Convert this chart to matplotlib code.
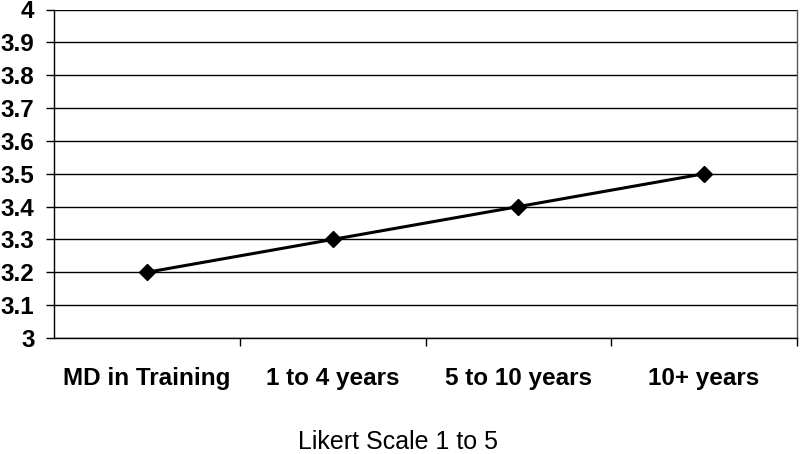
import matplotlib
matplotlib.use("Agg")
import matplotlib.pyplot as plt
from matplotlib.ticker import FixedLocator

categories = ["MD in Training", "1 to 4 years", "5 to 10 years", "10+ years"]
values = [3.2, 3.3, 3.4, 3.5]
y_ticks = [3.0, 3.1, 3.2, 3.3, 3.4, 3.5, 3.6, 3.7, 3.8, 3.9, 4.0]
y_labels = ["3", "3.1", "3.2", "3.3", "3.4", "3.5", "3.6", "3.7", "3.8", "3.9", "4"]
x_title = "Likert Scale 1 to 5"

plt.rcParams['font.family'] = ['Liberation Sans', 'DejaVu Sans']

fig = plt.figure(figsize=(8, 4.54), dpi=100)
ax = fig.add_axes([54/800, 1-338/454, (797-54)/800, (338-9.5)/454])

x = list(range(len(categories)))
ax.plot(x, values, color='black', linewidth=2.2, marker='D', markersize=8,
        markerfacecolor='black', markeredgecolor='black', zorder=3)

ax.set_xlim(-0.5, len(categories) - 0.5)
ax.set_ylim(3.0, 4.0)
ax.set_yticks(y_ticks)
ax.set_yticklabels(y_labels, fontsize=17.5, fontweight='bold')
ax.set_xticks(x)
ax.set_xticklabels(categories, fontsize=17.5, fontweight='bold')
ax.xaxis.set_minor_locator(FixedLocator([0.5, 1.5, 2.5, 3.5]))

ax.tick_params(axis='x', which='major', length=0, pad=21)
ax.tick_params(axis='x', which='minor', length=5.5, width=1, color='black', direction='out')
ax.tick_params(axis='y', which='major', length=6, width=1, color='black', direction='out', pad=8)

ax.yaxis.grid(True, color='black', linewidth=1)
ax.set_axisbelow(True)

ax.spines['top'].set_visible(False)
ax.spines['right'].set_color('#555555')
ax.spines['right'].set_linewidth(1)
ax.spines['left'].set_color('black')
ax.spines['left'].set_linewidth(1)
ax.spines['bottom'].set_color('black')
ax.spines['bottom'].set_linewidth(1)

fig.text(0.4975, 5/454, x_title, ha='center', va='baseline', fontsize=18)

fig.savefig("out.png", dpi=100)
